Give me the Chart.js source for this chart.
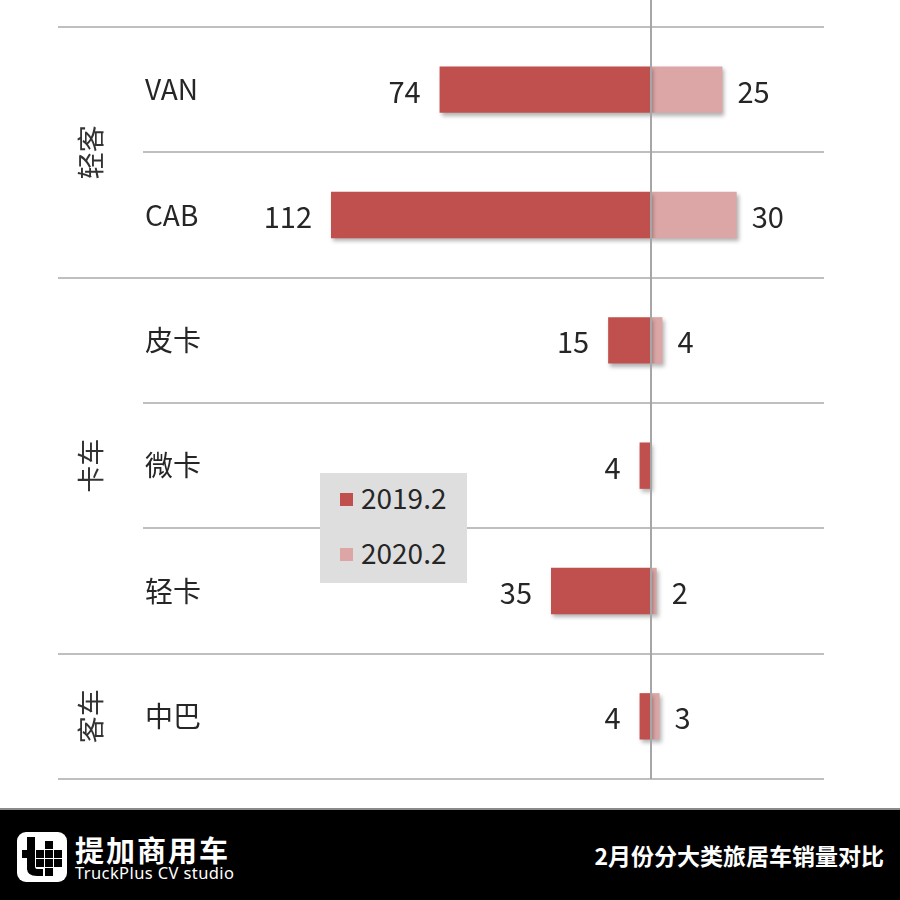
<!DOCTYPE html>
<html>
<head>
<meta charset="utf-8">
<script src="https://cdn.jsdelivr.net/npm/chart.js@4"></script>
<style>
  html, body { margin: 0; padding: 0; background: #fff; }
  body { width: 900px; height: 900px; position: relative; overflow: hidden;
         font-family: "Noto Sans CJK SC", "Noto Sans", sans-serif; }
  #wrap { position: absolute; left: 0; top: 0; width: 900px; height: 808px; }
  #legend { position: absolute; left: 320px; top: 473px; width: 147px; height: 110px;
            background: #dedede; }
  .item { position: absolute; left: 20px; height: 30px; font-size: 28px; color: #262626;
          line-height: 30px; }
  .item span.box { position: absolute; left: 0; top: 9px; width: 13px; height: 13px; }
  .item span.txt { position: absolute; left: 21px; top: -2px; white-space: nowrap; }
  #banner { position: absolute; left: 0; top: 808px; width: 900px; height: 92px;
            background: #000; border-top: 2px solid #8a8a8a; box-sizing: border-box; }
  #brand { position: absolute; left: 75px; top: 22px; color: #fff; font-size: 29px;
           font-weight: bold; letter-spacing: 2px; line-height: 34px; }
  #brandEn { position: absolute; left: 75px; top: 53px; color: #fff; font-size: 16.5px;
             letter-spacing: 0.4px; line-height: 20px; font-family: "Noto Sans", sans-serif; }
  #title { position: absolute; right: 16px; top: 30px; color: #fff; font-size: 23px;
           font-weight: bold; line-height: 30px; }
  #logo { position: absolute; left: 17px; top: 22px; }
</style>
</head>
<body>
<div id="wrap"><canvas id="chart" width="900" height="808"></canvas></div>
<div id="legend"></div>
<div id="banner">
  <svg id="logo" width="50" height="50" viewBox="0 0 50 50">
    <rect x="0" y="0" width="50" height="50" rx="9" fill="#fff"/>
    <rect x="10" y="5" width="8" height="33" fill="#000"/>
    <path d="M10 36 Q10 44 20 44 L26 44 L26 37 L20 37 Q18 37 18 34 Z" fill="#000"/>
    <rect x="5" y="18" width="13" height="8" fill="#000"/>
    <rect x="19" y="18" width="8" height="8" fill="#000"/>
    <rect x="28" y="18" width="8" height="8" fill="#000"/>
    <rect x="37" y="18" width="8" height="8" fill="#000"/>
    <rect x="28" y="9" width="8" height="8" fill="#000"/>
    <rect x="19" y="27" width="8" height="8" fill="#000"/>
    <rect x="28" y="27" width="8" height="8" fill="#000"/>
    <rect x="37" y="27" width="8" height="8" fill="#000"/>
    <rect x="28" y="36" width="8" height="8" fill="#000"/>
  </svg>
  <div id="brand">提加商用车</div>
  <div id="brandEn">TruckPlus CV studio</div>
  <div id="title">2月份分大类旅居车销量对比</div>
</div>
<script>
// data
const categories = ['VAN', 'CAB', '皮卡', '微卡', '轻卡', '中巴'];
const sales2019 = [74, 112, 15, 4, 35, 4];
const sales2020 = [25, 30, 4, 0, 2, 3];
const seriesNames = ['2019.2', '2020.2'];
const groupNames = ['轻客', '卡车', '客车'];
const groupSizes = [2, 3, 1];

const darkRed = '#c0504d';
const lightRed = '#dca6a6';
const textColor = '#262626';
const font = '"Noto Sans CJK SC", "Noto Sans", sans-serif';

// shadow under the bars
const shadowPlugin = {
  id: 'barShadow',
  beforeDatasetDraw(chart) {
    const ctx = chart.ctx;
    ctx.save();
    ctx.shadowColor = 'rgba(0,0,0,0.3)';
    ctx.shadowBlur = 4;
    ctx.shadowOffsetX = 2;
    ctx.shadowOffsetY = 3;
  },
  afterDatasetDraw(chart) {
    chart.ctx.restore();
  }
};

// row separators, group labels, centre line and value labels
const decorPlugin = {
  id: 'decor',
  beforeDatasetsDraw(chart) {
    const ctx = chart.ctx;
    const y = chart.scales.y;
    const area = chart.chartArea;
    const step = (y.getPixelForValue(1) - y.getPixelForValue(0));
    const groupEnds = [0];
    groupSizes.reduce((a, b) => { groupEnds.push(a + b); return a + b; }, 0);
    ctx.save();
    ctx.strokeStyle = '#bfbfbf';
    ctx.lineWidth = 2;
    for (let i = 0; i <= categories.length; i++) {
      const py = Math.round(y.getPixelForValue(i) - step / 2);
      const left = groupEnds.includes(i) ? 58 : 143;
      ctx.beginPath();
      ctx.moveTo(left, py);
      ctx.lineTo(area.right, py);
      ctx.stroke();
    }
    // group labels
    ctx.fillStyle = '#333';
    ctx.font = '27px ' + font;
    ctx.textAlign = 'center';
    ctx.textBaseline = 'middle';
    for (let g = 0; g < groupNames.length; g++) {
      const mid = (groupEnds[g] + groupEnds[g + 1] - 1) / 2;
      const py = y.getPixelForValue(mid);
      ctx.save();
      ctx.translate(91, py);
      ctx.rotate(-Math.PI / 2);
      ctx.fillText(groupNames[g], 0, 0);
      ctx.restore();
    }
    ctx.restore();
  },
  afterDatasetsDraw(chart) {
    const ctx = chart.ctx;
    const x0 = chart.scales.x.getPixelForValue(0);
    ctx.save();
    ctx.strokeStyle = '#a6a6a6';
    ctx.lineWidth = 2;
    ctx.beginPath();
    ctx.moveTo(x0, 0);
    ctx.lineTo(x0, chart.chartArea.bottom);
    ctx.stroke();

    ctx.font = '29px ' + font;
    ctx.fillStyle = textColor;
    ctx.textBaseline = 'middle';
    const sources = [sales2019, sales2020];
    chart.data.datasets.forEach((ds, di) => {
      const meta = chart.getDatasetMeta(di);
      meta.data.forEach((bar, i) => {
        const v = sources[di][i];
        if (!v) return;
        if (di === 0) {
          ctx.textAlign = 'right';
          ctx.fillText(String(v), bar.x - 19, bar.y + 2);
        } else {
          ctx.textAlign = 'left';
          ctx.fillText(String(v), bar.x + 15, bar.y + 2);
        }
      });
    });
    ctx.restore();
  }
};

const ctx = document.getElementById('chart').getContext('2d');
const chart = new Chart(ctx, {
  type: 'bar',
  data: {
    labels: categories,
    datasets: [{
      label: seriesNames[0],
      data: sales2019.map(v => -v),
      backgroundColor: darkRed
    }, {
      label: seriesNames[1],
      data: sales2020,
      backgroundColor: lightRed
    }]
  },
  options: {
    indexAxis: 'y',
    responsive: false,
    animation: false,
    layout: { padding: { left: 145, right: 76, top: 27, bottom: 29 } },
    datasets: { bar: { categoryPercentage: 1, barPercentage: 0.37 } },
    plugins: { legend: { display: false }, tooltip: { enabled: false } },
    scales: {
      x: {
        stacked: true,
        display: false,
        min: -142.1,
        max: 60.55
      },
      y: {
        stacked: true,
        grid: { display: false },
        border: { display: false },
        afterFit(scale) { scale.width = 100; },
        ticks: {
          crossAlign: 'far',
          color: '#262626',
          font: { size: 28, family: font }
        }
      }
    }
  },
  plugins: [shadowPlugin, decorPlugin]
});

// legend
const legend = document.getElementById('legend');
[darkRed, lightRed].forEach((c, i) => {
  const item = document.createElement('div');
  item.className = 'item';
  item.style.top = (11 + i * 55) + 'px';
  item.innerHTML = '<span class="box" style="background:' + c + '"></span><span class="txt">' + seriesNames[i] + '</span>';
  legend.appendChild(item);
});
</script>
</body>
</html>
